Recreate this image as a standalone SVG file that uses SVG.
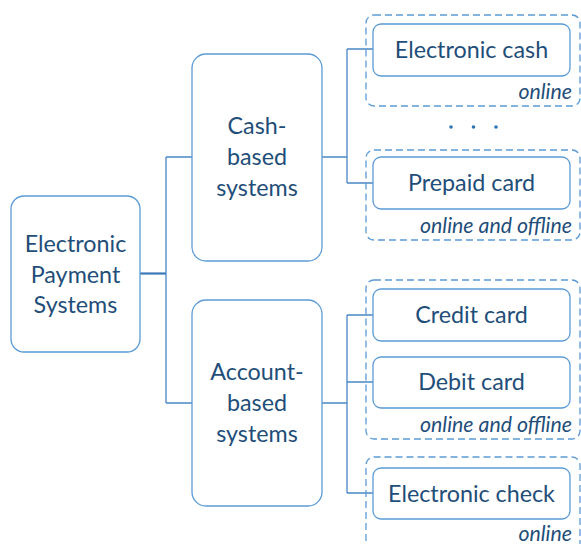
<svg xmlns="http://www.w3.org/2000/svg" width="581" height="544" viewBox="0 0 581 544">
  <style>
    .box { fill: #ffffff; stroke: #5b9bd5; stroke-width: 1.3; }
    .group { fill: none; stroke: #5b9bd5; stroke-width: 1.3; stroke-dasharray: 7 4; }
    .link { fill: none; stroke: #4a86c5; stroke-width: 1.3; }
    .root-link { fill: none; stroke: #3a78b8; stroke-width: 2.2; }
    .label { font-family: Lato, "Open Sans", "Liberation Sans", sans-serif; font-size: 23.3px; fill: #1f4e79; text-anchor: middle; }
    .note { font-family: Lato, "Open Sans", "Liberation Sans", sans-serif; font-size: 21.3px; font-style: italic; fill: #1f4e79; text-anchor: end; }
    .dot { fill: #2e75b6; }
  </style>

  <!-- tree connectors -->
  <g id="connectors">
    <path class="root-link" d="M140,273.5 H166"/>
    <path class="link" d="M166,157 V403 M166,157 H192 M166,403 H192"/>
    <path class="link" d="M322,157 H347 M347,49 V183 M347,49 H373 M347,183 H373"/>
    <path class="link" d="M322,403 H347 M347,315 V493 M347,315 H373 M347,382 H373 M347,493 H373"/>
  </g>

  <!-- dashed availability groups -->
  <g id="group-ecash">
    <rect class="group" x="366" y="15" width="214" height="91" rx="8"/>
    <text class="note" x="572" y="99">online</text>
  </g>
  <g id="group-prepaid">
    <rect class="group" x="366" y="150" width="214" height="90" rx="8"/>
    <text class="note" x="572" y="233">online and offline</text>
  </g>
  <g id="group-cards">
    <rect class="group" x="366" y="280" width="214" height="159" rx="8"/>
    <text class="note" x="572" y="432">online and offline</text>
  </g>
  <g id="group-check">
    <path class="group" d="M366,552 V465 A8,8 0 0 1 374,457 H572 A8,8 0 0 1 580,465 V552"/>
    <text class="note" x="572" y="540.5">online</text>
  </g>

  <!-- root -->
  <g id="node-eps">
    <rect class="box" x="11" y="196" width="129" height="156" rx="13"/>
    <text class="label" x="75.5" y="252">Electronic</text>
    <text class="label" x="75.5" y="282.5">Payment</text>
    <text class="label" x="75.5" y="313">Systems</text>
  </g>

  <!-- second level -->
  <g id="node-cash-based">
    <rect class="box" x="192" y="54" width="130" height="207" rx="14"/>
    <text class="label" x="257" y="134">Cash-</text>
    <text class="label" x="257" y="165">based</text>
    <text class="label" x="257" y="195.5">systems</text>
  </g>
  <g id="node-account-based">
    <rect class="box" x="192" y="300" width="130" height="206" rx="14"/>
    <text class="label" x="257" y="380">Account-</text>
    <text class="label" x="257" y="411">based</text>
    <text class="label" x="257" y="441.5">systems</text>
  </g>

  <!-- leaves -->
  <g id="node-ecash">
    <rect class="box" x="373" y="24" width="197" height="52" rx="8"/>
    <text class="label" x="471.5" y="58">Electronic cash</text>
  </g>
  <g id="ellipsis">
    <circle class="dot" cx="451" cy="127" r="1.8"/>
    <circle class="dot" cx="473.5" cy="127" r="1.8"/>
    <circle class="dot" cx="496" cy="127" r="1.8"/>
  </g>
  <g id="node-prepaid">
    <rect class="box" x="373" y="157" width="197" height="52" rx="8"/>
    <text class="label" x="471.5" y="191">Prepaid card</text>
  </g>
  <g id="node-credit">
    <rect class="box" x="373" y="289" width="197" height="52" rx="8"/>
    <text class="label" x="471.5" y="323">Credit card</text>
  </g>
  <g id="node-debit">
    <rect class="box" x="373" y="357" width="197" height="51" rx="8"/>
    <text class="label" x="471.5" y="390">Debit card</text>
  </g>
  <g id="node-check">
    <rect class="box" x="373" y="468" width="197" height="51" rx="8"/>
    <text class="label" x="471.5" y="502">Electronic check</text>
  </g>
</svg>
